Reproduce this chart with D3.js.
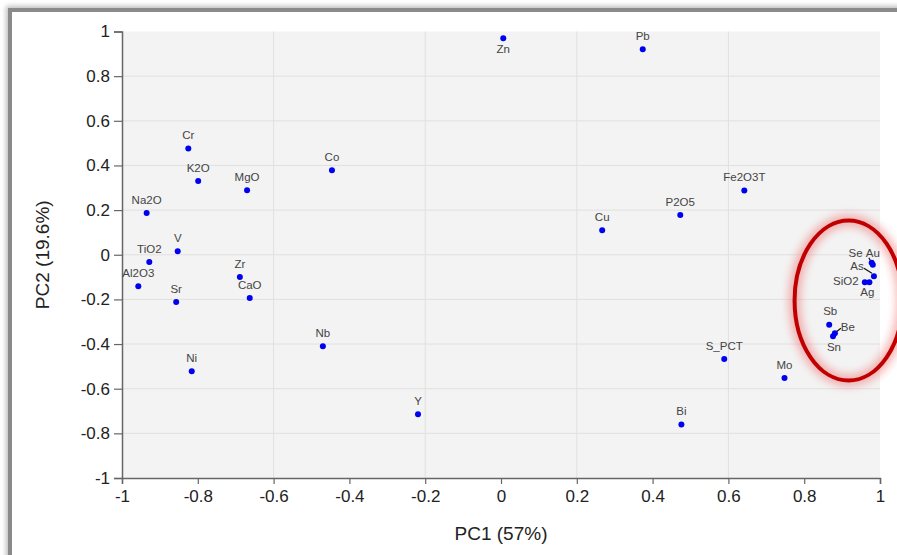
<!DOCTYPE html>
<html><head><meta charset="utf-8">
<script src="https://cdn.jsdelivr.net/npm/d3@7/dist/d3.min.js"></script>
<style>
html,body{margin:0;padding:0;background:#fff;}
svg{display:block;font-family:"Liberation Sans",Arial,sans-serif;}
</style></head>
<body>
<svg id="chart" width="897" height="555"></svg>
<script>
// ---- data ----
const names = ["Zn","Pb","Cr","K2O","MgO","Co","Na2O","V","TiO2","Al2O3","Sr","Zr","CaO","Nb","Ni","Y",
  "Cu","P2O5","Fe2O3T","S_PCT","Mo","Bi","Sb","Be","Sn","Se","Au","As","SiO2","Ag"];
const pc1 = [0.006,0.374,-0.825,-0.799,-0.670,-0.446,-0.935,-0.853,-0.928,-0.957,-0.857,-0.689,-0.663,-0.470,-0.816,-0.219,
  0.267,0.473,0.642,0.589,0.748,0.476,0.866,0.881,0.876,0.978,0.981,0.984,0.960,0.972];
const pc2 = [0.970,0.920,0.476,0.330,0.289,0.379,0.187,0.016,-0.032,-0.141,-0.212,-0.100,-0.194,-0.410,-0.522,-0.715,
  0.110,0.178,0.288,-0.467,-0.552,-0.760,-0.313,-0.352,-0.365,-0.036,-0.045,-0.096,-0.123,-0.123];
const xTicks = [-1,-0.8,-0.6,-0.4,-0.2,0,0.2,0.4,0.6,0.8,1];
const yTicks = [-1,-0.8,-0.6,-0.4,-0.2,0,0.2,0.4,0.6,0.8,1];
const xGrid = [-0.6,-0.2,0.2,0.6];
const xTitle = "PC1 (57%)";
const yTitle = "PC2 (19.6%)";
const highlighted = ["Se","Au","As","SiO2","Ag","Sb","Be","Sn"];

// ---- label layout (pixel offsets from point) ----
const labelOffsets = {
  Zn:{dx:0,dy:15},
  Se:{dx:-16,dy:-6}, Au:{dx:0,dy:-8, lead:[[-4,-7],[-1,-2]]},
  As:{dx:-17,dy:-6, lead:[[-10,-8],[-2,-3]]},
  SiO2:{dx:-19,dy:3}, Ag:{dx:-2,dy:14},
  Sb:{dx:1,dy:-10}, Be:{dx:13,dy:-2, lead:[[6,-5],[1,-1]]}, Sn:{dx:1,dy:15}
};

const svg = d3.select("#chart");
const x = d3.scaleLinear().domain([-1,1]).range([122,880]);
const y = d3.scaleLinear().domain([-1,1]).range([478,31.5]);

const defs = svg.append("defs");
const sh = defs.append("filter").attr("id","shadow").attr("x","-5%").attr("y","-5%").attr("width","110%").attr("height","110%");
sh.append("feGaussianBlur").attr("stdDeviation",2.5);
const glow = defs.append("filter").attr("id","glow").attr("x","-50%").attr("y","-50%").attr("width","200%").attr("height","200%");
glow.append("feGaussianBlur").attr("stdDeviation",4);

// frame
svg.append("rect").attr("x",10).attr("y",10).attr("width",1000).attr("height",1000)
  .attr("fill","none").attr("stroke","#bdbdbd").attr("stroke-width",8).attr("filter","url(#shadow)");
svg.append("rect").attr("x",10).attr("y",10).attr("width",1000).attr("height",1000)
  .attr("fill","#fff").attr("stroke","#8a8a8a").attr("stroke-width",4);

// plot background
svg.append("rect").attr("x",x(-1)).attr("y",y(1)).attr("width",x(1)-x(-1)).attr("height",y(-1)-y(1))
  .attr("fill","#f3f3f3");

// grid
svg.append("g").selectAll("line").data(yTicks.filter(d=>d>-1&&d<1)).join("line")
  .attr("x1",x(-1)).attr("x2",x(1)).attr("y1",d=>y(d)).attr("y2",d=>y(d))
  .attr("stroke","#e0e0e0").attr("stroke-width",1);
svg.append("g").selectAll("line").data(xGrid).join("line")
  .attr("y1",y(-1)).attr("y2",y(1)).attr("x1",d=>x(d)).attr("x2",d=>x(d))
  .attr("stroke","#e0e0e0").attr("stroke-width",1);

// axes
const fmt = d => (d<0?"-":"") + String(Math.abs(d));
const xAxis = svg.append("g").attr("transform",`translate(0,${y(-1)})`)
  .call(d3.axisBottom(x).tickValues(xTicks).tickFormat(fmt).tickSize(6).tickPadding(6));
const yAxis = svg.append("g").attr("transform",`translate(${x(-1)},0)`)
  .call(d3.axisLeft(y).tickValues(yTicks).tickFormat(fmt).tickSize(8).tickPadding(4));
[xAxis,yAxis].forEach(a=>{
  a.select(".domain").attr("stroke","#666").attr("stroke-width",1.5);
  a.selectAll(".tick line").attr("stroke","#666").attr("stroke-width",1.2);
  a.selectAll(".tick text").attr("fill","#222").attr("font-size",17)
   .attr("font-family","'Liberation Sans',Arial,sans-serif");
});

// titles
svg.append("text").attr("x",(x(-1)+x(1))/2).attr("y",540).attr("text-anchor","middle")
  .attr("font-size",19).attr("fill","#222").text(xTitle);
svg.append("text").attr("transform",`translate(49,${(y(-1)+y(1))/2}) rotate(-90)`).attr("text-anchor","middle")
  .attr("font-size",19).attr("fill","#222").text(yTitle);

// highlight ellipse
const hx = highlighted.map(n=>pc1[names.indexOf(n)]);
const hy = highlighted.map(n=>pc2[names.indexOf(n)]);
const ecx = (x(d3.min(hx))+x(d3.max(hx)))/2 - 3;
const ecy = (y(d3.min(hy))+y(d3.max(hy)))/2 + 1;
const eg = svg.append("g");
eg.append("ellipse").attr("cx",ecx).attr("cy",ecy).attr("rx",54).attr("ry",80)
  .attr("fill","none").attr("stroke","#f08080").attr("stroke-width",12).attr("opacity",0.6).attr("filter","url(#glow)");
eg.append("ellipse").attr("cx",ecx).attr("cy",ecy).attr("rx",54).attr("ry",80)
  .attr("fill","none").attr("stroke","#c00000").attr("stroke-width",4);

// points & labels
const pts = names.map((n,i)=>({name:n,x:pc1[i],y:pc2[i]}));
const lg = svg.append("g");
pts.forEach(p=>{
  const o = labelOffsets[p.name] || {dx:0,dy:-9};
  const px = x(p.x), py = y(p.y);
  if (o.lead) {
    lg.append("line").attr("x1",px+o.lead[0][0]).attr("y1",py+o.lead[0][1])
      .attr("x2",px+o.lead[1][0]).attr("y2",py+o.lead[1][1])
      .attr("stroke","#111").attr("stroke-width",1.2);
  }
  lg.append("text").attr("x",px+o.dx).attr("y",py+o.dy).attr("text-anchor","middle")
    .attr("font-size",11.5).attr("fill","#444").text(p.name);
});
svg.append("g").selectAll("circle").data(pts).join("circle")
  .attr("cx",d=>x(d.x)).attr("cy",d=>y(d.y)).attr("r",3).attr("fill","#0000f0");
</script>
</body></html>
